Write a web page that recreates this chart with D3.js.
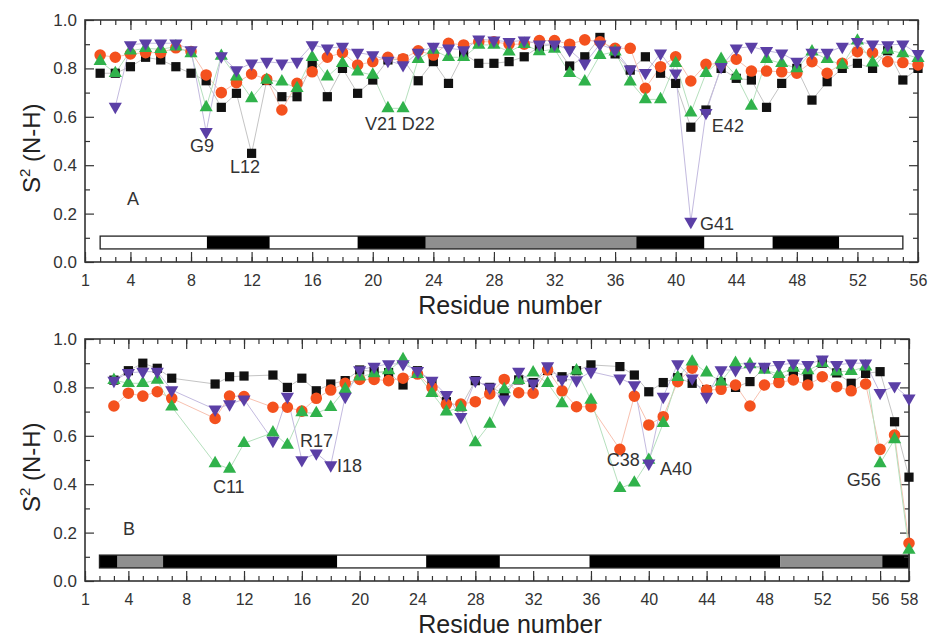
<!DOCTYPE html>
<html>
<head>
<meta charset="utf-8">
<script src="https://cdnjs.cloudflare.com/ajax/libs/d3/7.8.5/d3.min.js"></script>
<style>
  body { margin: 0; background: #fff; }
  svg { display: block; font-family: "Liberation Sans", Arial, sans-serif; }
</style>
</head>
<body>
<svg id="chart" width="932" height="637"></svg>
<script>
// ---- panel A data (residues 2..56) ----
const residuesA = [2,3,4,5,6,7,8,9,10,11,12,13,14,15,16,17,18,19,20,21,22,23,24,25,26,27,28,29,30,
  31,32,33,34,35,36,37,38,39,40,41,42,43,44,45,46,47,48,49,50,51,52,53,54,55,56];
const blackA = [0.78,0.78,0.807,0.846,0.835,0.807,0.78,0.749,0.639,0.697,0.449,0.75,0.683,0.683,0.818,
  0.683,0.80,0.697,0.752,0.835,0.838,0.749,0.828,0.738,0.86,0.821,0.821,0.828,0.848,0.89,0.90,0.81,
  0.848,0.928,0.86,0.793,0.848,0.78,0.738,0.557,0.628,0.80,0.759,0.752,0.639,0.738,0.80,0.669,0.745,
  0.80,0.821,0.80,0.873,0.752,0.80];
const redA = [0.855,0.846,0.86,0.865,0.865,0.885,0.87,0.773,0.70,0.741,0.777,0.755,0.628,0.738,0.786,
  0.846,0.865,0.814,0.828,0.846,0.84,0.873,0.855,0.904,0.897,0.91,0.91,0.90,0.90,0.915,0.915,0.90,
  0.918,0.91,0.883,0.883,0.718,0.807,0.848,0.748,0.817,0.82,0.838,0.789,0.789,0.786,0.78,0.828,0.78,
  0.821,0.869,0.865,0.828,0.824,0.814];
const greenA = [0.83,0.78,0.873,0.883,0.879,0.89,0.862,0.639,0.851,0.766,0.676,0.752,0.745,0.718,0.846,
  0.766,0.821,0.786,0.773,0.635,0.635,0.838,0.876,0.846,0.846,0.897,0.897,0.869,0.90,0.87,0.88,0.78,
  0.745,0.855,0.869,0.745,0.672,0.672,0.821,0.617,0.78,0.838,0.769,0.645,0.838,0.821,0.80,0.869,0.838,
  0.814,0.914,0.824,0.876,0.862,0.842];
const purpleA = [null,0.642,0.897,0.904,0.904,0.904,0.876,0.538,0.851,0.793,0.821,0.828,0.821,0.828,0.897,
  0.883,0.89,0.865,0.855,0.832,0.814,0.865,0.89,0.883,0.876,0.92,0.916,0.91,0.916,0.90,0.90,0.876,
  0.821,0.90,0.875,0.796,0.782,0.862,0.78,0.167,0.617,0.807,0.883,0.89,0.873,0.862,0.828,0.865,0.865,
  0.89,0.91,0.90,0.897,0.90,0.86];
// secondary structure: [start residue, end residue, type]
const structA = [[2,9.05,"coil"],[9.05,13.2,"helix"],[13.2,19,"coil"],[19,23.5,"helix"],[23.5,37.4,"sheet"],
  [37.4,41.9,"helix"],[41.9,46.4,"coil"],[46.4,50.8,"helix"],[50.8,55,"coil"]];
const notesA = [["G9",7.93,0.455],["L12",10.57,0.368],["V21",19.48,0.545],["D22",21.92,0.545],
  ["E42",42.39,0.538],["G41",41.6,0.132],["A",3.77,0.236]];
const ticksA = [1,4,8,12,16,20,24,28,32,36,40,44,48,52,56];

// ---- panel B data (residues 3..58) ----
const residuesB = [3,4,5,6,7,8,9,10,11,12,13,14,15,16,17,18,19,20,21,22,23,24,25,26,27,28,29,30,
  31,32,33,34,35,36,37,38,39,40,41,42,43,44,45,46,47,48,49,50,51,52,53,54,55,56,57,58];
const blackB = [0.83,0.869,0.90,0.879,0.838,null,null,0.814,0.844,0.847,null,0.851,0.80,0.838,0.786,0.814,
  0.828,0.872,0.865,0.861,0.81,0.869,0.82,0.741,0.72,0.828,0.80,0.776,0.831,0.82,0.87,0.844,0.869,0.893,
  null,0.886,0.851,0.782,0.82,0.84,0.817,0.79,0.82,0.80,0.824,0.88,0.833,0.865,0.842,0.90,0.86,0.817,
  0.858,0.865,0.658,0.429];
const redB = [0.723,0.776,0.764,0.782,0.755,null,null,0.672,0.764,0.762,null,0.718,0.718,0.702,0.755,0.789,
  0.817,0.833,0.833,0.828,0.838,0.855,0.80,0.73,0.731,0.741,0.773,0.833,0.778,0.776,0.872,0.786,0.72,0.72,
  null,0.544,0.764,0.645,0.679,0.824,0.879,0.789,0.792,0.81,0.723,0.81,0.82,0.831,0.81,0.844,0.803,0.786,
  0.814,0.544,0.603,0.156];
const greenB = [0.83,0.817,0.817,0.831,0.72,null,null,0.486,0.463,0.569,null,0.613,0.562,0.696,0.693,0.718,
  0.792,0.844,0.858,0.87,0.916,0.855,0.776,0.70,0.718,0.572,0.649,0.792,0.83,0.861,0.817,0.734,0.869,0.748,
  null,0.383,0.406,0.50,0.652,0.842,0.906,0.861,0.824,0.90,0.895,0.872,0.855,0.88,0.87,0.90,0.865,0.867,
  0.886,0.486,0.585,0.128];
const purpleB = [0.828,0.86,0.865,0.865,0.789,null,null,0.709,0.731,0.751,null,0.58,0.762,0.50,0.528,0.479,
  0.762,0.872,0.886,0.897,0.897,0.869,0.828,0.769,0.679,0.828,0.80,0.751,0.865,0.817,0.888,0.833,0.83,0.865,
  null,0.838,0.81,0.486,0.762,0.897,0.838,0.762,0.872,0.872,0.886,0.886,0.893,0.90,0.893,0.916,0.893,0.90,
  0.90,0.778,0.806,0.755];
const structB = [[2,3.25,"helix"],[3.25,6.4,"sheet"],[6.4,18.45,"helix"],[18.45,24.6,"coil"],[24.6,29.7,"helix"],
  [29.7,35.9,"coil"],[35.9,49.1,"helix"],[49.1,56.15,"sheet"],[56.15,58,"helix"]];
const notesB = [["C11",9.85,0.364],["R17",15.87,0.554],["I18",18.43,0.45],["C38",37.1,0.475],
  ["A40",40.78,0.438],["G56",53.7,0.393],["B",3.63,0.19]];
const ticksB = [1,4,8,12,16,20,24,28,32,36,40,44,48,52,56,58];

const yTicks = [0, 0.2, 0.4, 0.6, 0.8, 1.0];
const yMinor = [0.1, 0.3, 0.5, 0.7, 0.9];

const structFill = { coil: "#fff", helix: "#000", sheet: "#8f8f8f" };

const svg = d3.select("#chart");

function drawPanel(opt) {
  const x = d3.scaleLinear().domain([1, opt.last]).range([85, opt.right]);
  const y = d3.scaleLinear().domain([0, 1]).range([opt.bottom, opt.bottom - 242]);
  const g = svg.append("g");
  const [x0, x1] = x.range();
  const [y0, y1] = y.range();

  // secondary structure bar
  g.selectAll("rect.ss")
    .data(opt.struct)
    .enter().append("rect")
    .attr("x", d => x(d[0]))
    .attr("width", d => x(d[1]) - x(d[0]))
    .attr("y", y(0.107))
    .attr("height", y(0.054) - y(0.107))
    .attr("fill", d => structFill[d[2]]);
  g.append("rect")
    .attr("x", x(opt.struct[0][0]))
    .attr("width", x(opt.struct[opt.struct.length - 1][1]) - x(opt.struct[0][0]))
    .attr("y", y(0.107))
    .attr("height", y(0.054) - y(0.107))
    .attr("fill", "none").attr("stroke", "#222").attr("stroke-width", 1.3);

  // axes with inward ticks on all four sides
  const allRes = d3.range(1, opt.last + 1);
  function styleAxis(sel) {
    sel.select(".domain").remove();
    sel.selectAll("line").attr("stroke", "#333").attr("stroke-width", 1.2);
    sel.selectAll("text").attr("fill", "#333");
  }
  g.append("g").attr("transform", `translate(0,${y0})`)
    .call(d3.axisBottom(x).tickValues(allRes).tickSize(-5).tickFormat(""))
    .call(styleAxis);
  g.append("g").attr("transform", `translate(0,${y0})`)
    .call(d3.axisBottom(x).tickValues(opt.ticks).tickSize(-10).tickPadding(13).tickFormat(d3.format("d")))
    .call(styleAxis)
    .selectAll("text").attr("font-size", 16);
  g.append("g").attr("transform", `translate(0,${y1})`)
    .call(d3.axisTop(x).tickValues(allRes).tickSize(-5).tickFormat(""))
    .call(styleAxis);
  g.append("g").attr("transform", `translate(0,${y1})`)
    .call(d3.axisTop(x).tickValues(opt.ticks).tickSize(-10).tickFormat(""))
    .call(styleAxis);

  g.append("g").attr("transform", `translate(${x0},0)`)
    .call(d3.axisLeft(y).tickValues(yTicks).tickSize(-9).tickPadding(8).tickFormat(d3.format(".1f")))
    .call(styleAxis)
    .selectAll("text").attr("font-size", 17);
  g.append("g").attr("transform", `translate(${x0},0)`)
    .call(d3.axisLeft(y).tickValues(yMinor).tickSize(-5).tickFormat(""))
    .call(styleAxis);
  g.append("g").attr("transform", `translate(${x1},0)`)
    .call(d3.axisRight(y).tickValues(yTicks).tickSize(-9).tickFormat(""))
    .call(styleAxis);
  g.append("g").attr("transform", `translate(${x1},0)`)
    .call(d3.axisRight(y).tickValues(yMinor).tickSize(-5).tickFormat(""))
    .call(styleAxis);

  // frame
  g.append("rect")
    .attr("x", x0).attr("y", y1)
    .attr("width", x1 - x0).attr("height", y0 - y1)
    .attr("fill", "none").attr("stroke", "#333").attr("stroke-width", 1.6);

  // connecting lines, then markers
  const line = d3.line().x(d => x(d.r)).y(d => y(d.v));
  opt.series.forEach(s => {
    const pts = opt.residues.map((r, i) => ({ r: r, v: s.vals[i] })).filter(d => d.v != null);
    g.append("path").datum(pts)
      .attr("d", line)
      .attr("fill", "none")
      .attr("stroke", s.lineColor)
      .attr("stroke-width", 1);
  });
  opt.series.forEach(s => {
    const pts = opt.residues.map((r, i) => ({ r: r, v: s.vals[i] })).filter(d => d.v != null);
    g.selectAll(null).data(pts).enter().append("path")
      .attr("d", d3.symbol(s.shape, s.size))
      .attr("transform", d => `translate(${x(d.r)},${y(d.v) + (s.dy || 0)})` + (s.flip ? " rotate(180)" : ""))
      .attr("fill", s.color);
  });

  // residue annotations and panel tag
  g.selectAll("text.note")
    .data(opt.notes)
    .enter().append("text")
    .attr("x", d => x(d[1]))
    .attr("y", d => y(d[2]))
    .attr("font-size", 18)
    .attr("fill", "#333")
    .text(d => d[0]);

  // axis titles
  g.append("text")
    .attr("x", 510).attr("y", y0 + 52)
    .attr("text-anchor", "middle")
    .attr("font-size", 25)
    .attr("fill", "#222")
    .text("Residue number");

  const yt = g.append("text")
    .attr("transform", `translate(40,${y(0.47)}) rotate(-90)`)
    .attr("text-anchor", "middle")
    .attr("font-size", 24)
    .attr("fill", "#222");
  yt.append("tspan").text("S");
  yt.append("tspan").attr("font-size", 15).attr("dy", -10).text("2");
  yt.append("tspan").attr("dy", 10).text(" (N-H)");
}

function seriesOf(blk, red, grn, pur) {
  return [
    { vals: blk, color: "#111", lineColor: "#c4c4c4", shape: d3.symbolSquare, size: 85 },
    { vals: red, color: "#f4511e", lineColor: "#f8c1b0", shape: d3.symbolCircle, size: 105 },
    { vals: grn, color: "#30b24b", lineColor: "#b5e0bd", shape: d3.symbolTriangle, size: 75, dy: 0 },
    { vals: pur, color: "#5b3fa6", lineColor: "#c3badf", shape: d3.symbolTriangle, size: 75, flip: true }
  ];
}

drawPanel({
  last: 56, right: 918, bottom: 262,
  residues: residuesA, series: seriesOf(blackA, redA, greenA, purpleA),
  struct: structA, notes: notesA, ticks: ticksA
});
drawPanel({
  last: 58, right: 909, bottom: 581,
  residues: residuesB, series: seriesOf(blackB, redB, greenB, purpleB),
  struct: structB, notes: notesB, ticks: ticksB
});
</script>
</body>
</html>
